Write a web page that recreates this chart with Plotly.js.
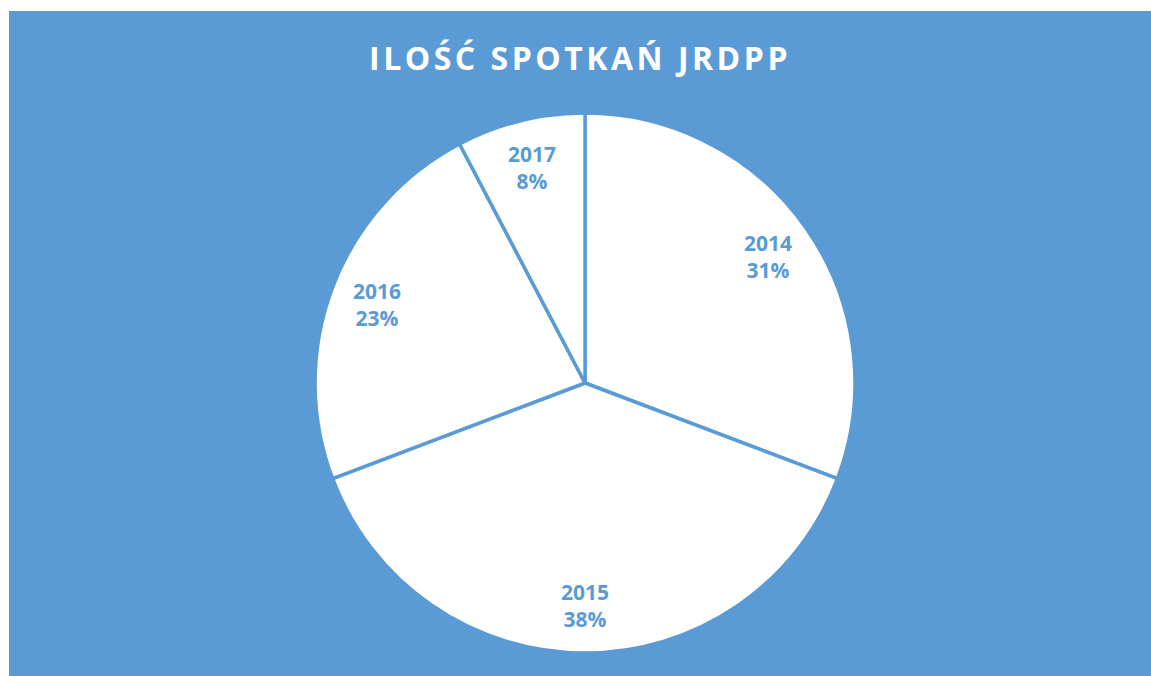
<!DOCTYPE html>
<html>
<head>
<meta charset="utf-8">
<script src="https://cdn.plot.ly/plotly-3.0.1.min.js"></script>
<style>
  html, body { margin: 0; padding: 0; background: #ffffff; }
  #chart { position: absolute; left: 9px; top: 11px; width: 1142px; height: 665px; }
  .gtitle { letter-spacing: 3.5px; }
</style>
</head>
<body>
<div id="chart"></div>
<script>
const chartTitle = 'ILOŚĆ SPOTKAŃ JRDPP';
const years = ['2014', '2015', '2016', '2017'];
const meetings = [4, 5, 3, 1];

const blue = '#5B9BD5';
const W = 1142, H = 665;
const dom = { x: [0.2680, 0.7408], y: [0.0346, 0.8466] };

const trace = {
  type: 'pie',
  labels: years,
  values: meetings,
  sort: false,
  direction: 'clockwise',
  rotation: 0,
  marker: { colors: years.map(() => '#ffffff'), line: { color: blue, width: 3.5 } },
  textinfo: 'none',
  hoverinfo: 'label+value+percent',
  domain: dom,
  showlegend: false
};

// label positions derived from the data (mid-angle of each slice)
const total = meetings.reduce((a, b) => a + b, 0);
const cx = (dom.x[0] + dom.x[1]) / 2;
const cy = (dom.y[0] + dom.y[1]) / 2;
const R = 268, labelR = 0.83 * R;
let cum = 0;
const annotations = meetings.map((v, i) => {
  const mid = (cum + v / 2) / total * 2 * Math.PI;
  cum += v;
  const pct = Math.round(v / total * 100);
  return {
    xref: 'paper', yref: 'paper',
    x: cx + labelR * Math.sin(mid) / W,
    y: cy + labelR * Math.cos(mid) / H,
    text: years[i] + '<br>' + pct + '%',
    showarrow: false,
    xanchor: 'center', yanchor: 'middle',
    font: { family: 'Open Sans, Calibri, sans-serif', size: 21, color: blue, weight: 'bold' }
  };
});

const layout = {
  width: W,
  height: H,
  paper_bgcolor: blue,
  plot_bgcolor: blue,
  margin: { l: 0, r: 0, t: 0, b: 0 },
  title: {
    text: chartTitle,
    font: { family: 'Open Sans, Calibri, sans-serif', size: 32, color: '#ffffff', weight: 'bold' },
    x: 0.5, xanchor: 'center',
    y: 0.928, yanchor: 'middle'
  },
  annotations: annotations,
  showlegend: false
};

Plotly.newPlot('chart', [trace], layout, { displayModeBar: false, staticPlot: true });
</script>
</body>
</html>
